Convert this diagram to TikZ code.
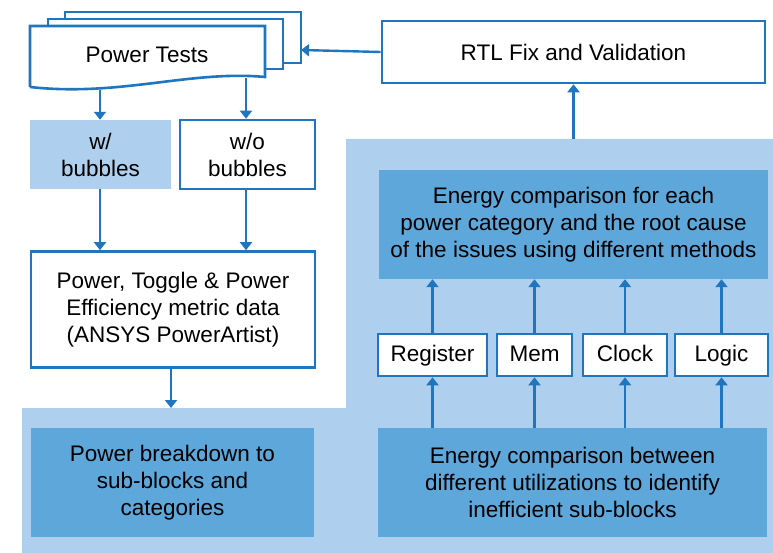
\documentclass[tikz,border=0pt]{standalone}
\usepackage{fontspec}
\setmainfont{Liberation Sans}
\usetikzlibrary{arrows.meta,positioning}
\definecolor{lineblue}{HTML}{1F75BE}
\definecolor{paleblue}{HTML}{AED0EE}
\definecolor{midblue}{HTML}{5DA7DB}

\begin{document}
\begin{tikzpicture}[x=1pt,y=-1pt,>={Triangle[width=12pt,length=8pt]},
  every node/.style={font=\fontsize{22.5}{27}\selectfont,align=center,inner sep=0pt},
  plainbox/.style={draw=lineblue,line width=2.6pt,fill=white},
  catbox/.style={plainbox,minimum height=42pt,text height=16pt,text depth=4pt},
  palebox/.style={fill=paleblue},
  midbox/.style={fill=midblue},
  sheet/.style={draw=lineblue,line width=2.6pt,fill=white},
  flow/.style={->,draw=lineblue,line width=2.4pt}]
\useasboundingbox (0,0) rectangle (773,553);
% shaded area behind the analysis steps
\fill[paleblue] (22,408) -- (346,408) -- (346,139) -- (773,139) -- (773,553) -- (22,553) -- cycle;
% stack of test documents
\draw[sheet] (65,12) rectangle (301,63);
\draw[sheet] (48,19) rectangle (283,69);
\draw[sheet] (30,87) -- (30,26) -- (265,26) -- (265,77) .. controls (190,70) and (120,97) .. (30,87);
\node (tests) at (147,55) {Power Tests};
\coordinate (testsl) at (100,90);
\coordinate (testsr) at (246,78);
\coordinate (testsin) at (301,50);

\node[plainbox,minimum width=383pt,minimum height=62pt] (rtl) at (573.5,52) {RTL Fix and Validation};
\node[palebox,minimum width=141pt,minimum height=69pt] (withb) at (100.5,154.5) {w/\\bubbles};
\node[plainbox,minimum width=135pt,minimum height=69pt] (withoutb) at (247.5,154.5) {w/o\\bubbles};
\node[plainbox,minimum width=284pt,minimum height=116pt] (metric) at (173,309.5)
  {Power, Toggle \& Power\\Efficiency metric data\\(ANSYS PowerArtist)};
\node[midbox,minimum width=283pt,minimum height=109pt] (breakdown) at (172.5,482.5)
  {Power breakdown to\\sub-blocks and\\categories};
\node[midbox,minimum width=389pt,minimum height=109pt] (between) at (572.5,482.5)
  {Energy comparison between\\different utilizations to identify\\inefficient sub-blocks};
\node[midbox,minimum width=389pt,minimum height=109pt] (category) at (573.5,224.5)
  {Energy comparison for each\\power category and the root cause\\of the issues using different methods};
\node[catbox,minimum width=109pt] (register) at (432.5,355) {Register};
\node[catbox,minimum width=75pt] (mem) at (534.5,355) {Mem};
\node[catbox,minimum width=84pt] (clock) at (625,355) {Clock};
\node[catbox,minimum width=93pt] (logic) at (721.5,355) {Logic};
\coordinate (areatop) at (573.5,139);
\coordinate (arealeft) at (171,408);

\draw[flow] (testsl) -- (testsl |- withb.north);
\draw[flow] (testsr) -- (testsr |- withoutb.north);
\draw[flow] (withb.south -| testsl) -- (testsl |- metric.north);
\draw[flow] (withoutb.south -| testsr) -- (testsr |- metric.north);
\draw[flow] (metric.south -| arealeft) -- (arealeft);
\draw[flow] (rtl.west) -- (testsin);
\draw[flow] (areatop) -- (rtl.south);
\foreach \cat in {register,mem,clock,logic}{
  \draw[flow] (between.north -| \cat) -- (\cat.south);
  \draw[flow] (\cat.north) -- (category.south -| \cat);
}
\end{tikzpicture}
\end{document}
